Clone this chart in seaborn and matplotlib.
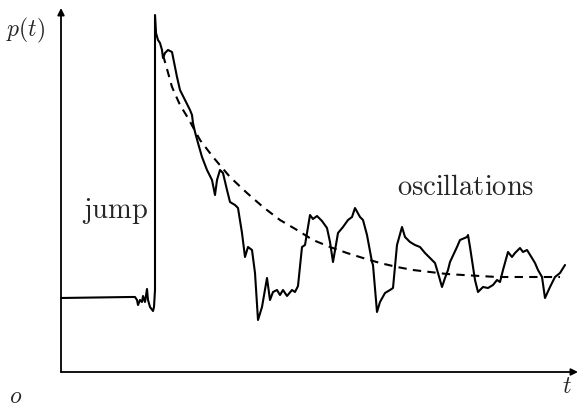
import matplotlib
matplotlib.use("Agg")
import matplotlib.pyplot as plt
import seaborn as sns
import pandas as pd

sns.set_theme(style="white")
plt.rcParams["mathtext.fontset"] = "cm"

# Solid trace p(t): flat level, jump, then decaying oscillations
t_solid = [0, 69, 74, 76, 77, 79, 81, 82, 84, 86, 87, 89, 92, 93, 94, 94,
           95, 97, 99, 101, 102, 104, 107, 111, 112, 116, 119, 124, 129, 131,
           132, 134, 137, 141, 146, 151, 154, 156, 159, 162, 166, 169, 174, 177,
           181, 184, 187, 191, 194, 197, 201, 206, 209, 212, 216, 219, 222, 226,
           231, 234, 237, 241, 244, 249, 252, 256, 261, 266, 269, 272, 277, 282,
           287, 291, 294, 299, 302, 306, 311, 312, 316, 319, 324, 329, 332, 336,
           341, 344, 349, 354, 359, 364, 369, 374, 377, 381, 384, 387, 389, 396,
           399, 406, 407, 409, 414, 417, 422, 427, 432, 436, 439, 442, 447, 451,
           454, 459, 462, 466, 471, 474, 477, 481, 484, 489, 494, 499, 504]
p_solid = [74, 75, 75, 72, 67, 72, 70, 76, 70, 83, 72, 65, 61, 65, 82, 357,
           339, 332, 329, 322, 314, 319, 322, 320, 315, 295, 282, 272, 262, 257,
           249, 240, 229, 215, 202, 192, 177, 192, 202, 199, 182, 170, 167, 164,
           139, 115, 125, 122, 99, 52, 65, 94, 72, 80, 82, 77, 82, 76, 82, 80,
           86, 125, 127, 157, 153, 156, 151, 144, 130, 110, 139, 145, 152, 155,
           164, 155, 152, 137, 110, 107, 60, 70, 79, 82, 84, 127, 145, 135, 130,
           127, 125, 119, 114, 109, 99, 85, 94, 102, 110, 125, 132, 135, 137,
           125, 92, 80, 85, 84, 87, 92, 90, 102, 120, 115, 119, 124, 120, 122,
           114, 109, 102, 95, 74, 85, 95, 99, 107]

# Dashed relaxation curve
t_dash = [102, 106, 111, 119, 127, 139, 152, 169, 186, 202, 219, 236, 252,
          269, 286, 302, 319, 336, 352, 369, 386, 402, 419, 436, 452, 469, 489, 499]
p_dash = [317, 303, 285, 267, 254, 232, 215, 195, 179, 165, 152, 142, 132,
          125, 119, 114, 109, 105, 102, 100, 98, 97, 96, 95, 95, 95, 95, 95]

solid = pd.DataFrame({"t": t_solid, "p": p_solid})
dash = pd.DataFrame({"t": t_dash, "p": p_dash})

fig = plt.figure(figsize=(5.8, 4.07), dpi=100)
ax = fig.add_axes([0, 0, 1, 1])
ax.set_xlim(-61, 519)
ax.set_ylim(-35, 372)
ax.axis("off")

sns.lineplot(data=solid, x="t", y="p", sort=False, estimator=None,
             color="black", lw=1.5, ax=ax)
sns.lineplot(data=dash, x="t", y="p", sort=False, estimator=None,
             color="black", lw=1.5, ax=ax, linestyle=(0, (4, 3)))

# Axes drawn as arrows from the origin
arrow = dict(arrowstyle="-|>", color="black", lw=1.3, mutation_scale=10,
             shrinkA=0, shrinkB=0)
ax.annotate("", xy=(0, 364), xytext=(0, 0), arrowprops=arrow)
ax.annotate("", xy=(517, 0), xytext=(0, 0), arrowprops=arrow)

ax.text(-35, 342, r"$p(t)$", fontsize=17, ha="center", va="center")
ax.text(54, 154, r"$\mathrm{jump}$", fontsize=20.5, ha="center", va="baseline")
ax.text(405, 177, r"$\mathrm{oscillations}$", fontsize=20.5, ha="center", va="baseline")
ax.text(-45, -24, r"$o$", fontsize=17, ha="center", va="center")
ax.text(506, -14, r"$t$", fontsize=17, ha="center", va="center")

fig.savefig("out.png", dpi=100)
